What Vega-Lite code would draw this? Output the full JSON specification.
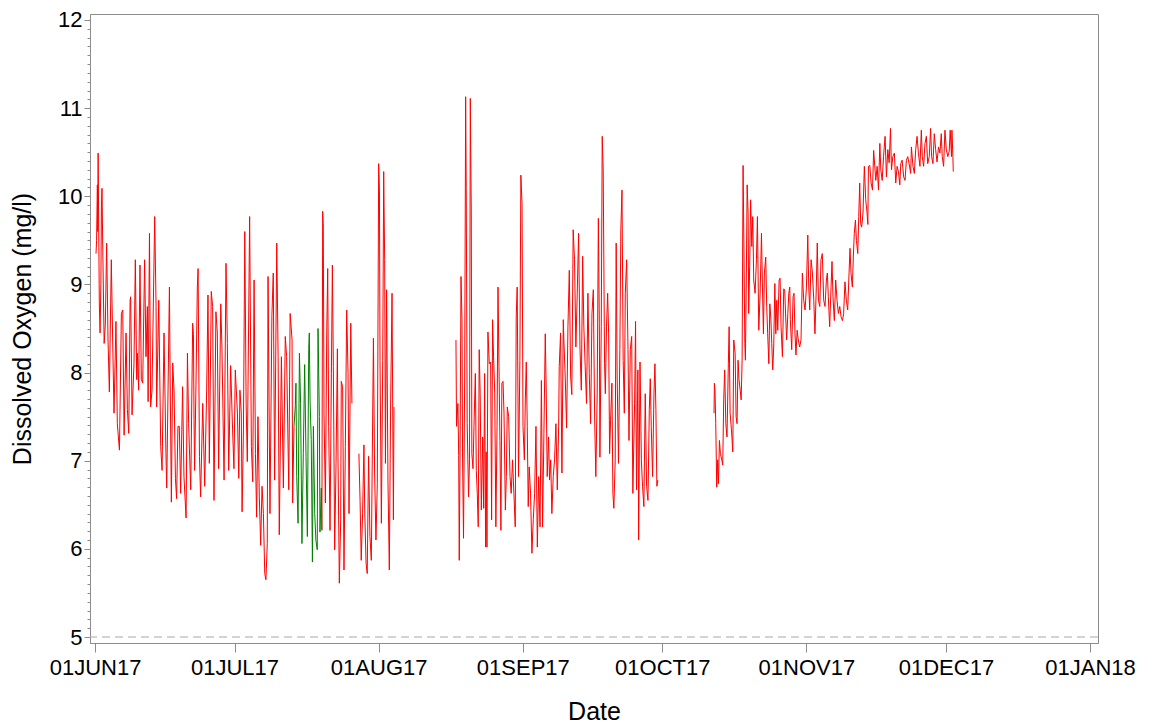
{
  "$schema": "https://vega.github.io/schema/vega-lite/v6.json",
  "width": 1008,
  "height": 629,
  "autosize": "none",
  "padding": {"left": 90, "top": 14, "right": 52, "bottom": 82},
  "background": "white",
  "config": {
    "font": "Liberation Sans",
    "view": {"stroke": "#8c8c8c", "strokeWidth": 1},
    "axis": {"domainColor": "#8c8c8c", "tickColor": "#8c8c8c", "labelColor": "#000000", "titleColor": "#000000", "grid": false, "titleFontWeight": "normal"}
  },
  "datasets": {
    "oxygen": [
      {"t":"2017-06-01T05:00","v":9.35,"g":"a"},{"t":"2017-06-01T08:00","v":9.5,"g":"a"},{"t":"2017-06-01T12:00","v":10.13,"g":"a"},{"t":"2017-06-01T14:00","v":9.6,"g":"a"},{"t":"2017-06-01T16:00","v":10.49,"g":"a"},{"t":"2017-06-01T22:00","v":8.79,"g":"a"},
      {"t":"2017-06-02T02:00","v":8.45,"g":"a"},{"t":"2017-06-02T06:00","v":9.0,"g":"a"},{"t":"2017-06-02T09:00","v":9.88,"g":"a"},{"t":"2017-06-02T12:00","v":10.09,"g":"a"},{"t":"2017-06-02T16:00","v":9.39,"g":"a"},{"t":"2017-06-02T23:00","v":8.33,"g":"a"},
      {"t":"2017-06-03T05:00","v":8.54,"g":"a"},{"t":"2017-06-03T12:00","v":9.47,"g":"a"},{"t":"2017-06-03T19:00","v":8.37,"g":"a"},
      {"t":"2017-06-04T02:00","v":7.78,"g":"a"},{"t":"2017-06-04T12:00","v":9.28,"g":"a"},{"t":"2017-06-04T19:00","v":8.37,"g":"a"},
      {"t":"2017-06-05T02:00","v":7.54,"g":"a"},{"t":"2017-06-05T12:00","v":8.58,"g":"a"},{"t":"2017-06-05T19:00","v":7.42,"g":"a"},
      {"t":"2017-06-06T06:00","v":7.12,"g":"a"},{"t":"2017-06-06T16:00","v":8.67,"g":"a"},{"t":"2017-06-06T23:00","v":8.71,"g":"a"},
      {"t":"2017-06-07T06:00","v":7.29,"g":"a"},{"t":"2017-06-07T16:00","v":8.45,"g":"a"},{"t":"2017-06-07T23:00","v":7.58,"g":"a"},
      {"t":"2017-06-08T06:00","v":7.31,"g":"a"},{"t":"2017-06-08T13:00","v":8.82,"g":"a"},{"t":"2017-06-08T16:00","v":8.86,"g":"a"},{"t":"2017-06-08T23:00","v":7.52,"g":"a"},
      {"t":"2017-06-09T09:00","v":8.10,"g":"a"},{"t":"2017-06-09T16:00","v":9.28,"g":"a"},{"t":"2017-06-09T23:00","v":7.92,"g":"a"},
      {"t":"2017-06-10T03:00","v":8.22,"g":"a"},{"t":"2017-06-10T09:00","v":7.80,"g":"a"},{"t":"2017-06-10T16:00","v":9.22,"g":"a"},{"t":"2017-06-10T23:00","v":7.92,"g":"a"},
      {"t":"2017-06-11T06:00","v":7.88,"g":"a"},{"t":"2017-06-11T16:00","v":9.28,"g":"a"},{"t":"2017-06-11T23:00","v":8.18,"g":"a"},
      {"t":"2017-06-12T06:00","v":8.75,"g":"a"},{"t":"2017-06-12T10:00","v":7.67,"g":"a"},{"t":"2017-06-12T17:00","v":9.58,"g":"a"},{"t":"2017-06-12T23:00","v":7.61,"g":"a"},
      {"t":"2017-06-13T06:00","v":7.80,"g":"a"},{"t":"2017-06-13T20:00","v":9.77,"g":"a"},
      {"t":"2017-06-14T03:00","v":8.75,"g":"a"},{"t":"2017-06-14T06:00","v":7.61,"g":"a"},{"t":"2017-06-14T17:00","v":8.82,"g":"a"},
      {"t":"2017-06-15T03:00","v":7.16,"g":"a"},{"t":"2017-06-15T10:00","v":6.89,"g":"a"},{"t":"2017-06-15T20:00","v":8.45,"g":"a"},
      {"t":"2017-06-16T06:00","v":7.08,"g":"a"},{"t":"2017-06-16T10:00","v":6.69,"g":"a"},
      {"t":"2017-06-17T00:00","v":8.97,"g":"a"},{"t":"2017-06-17T03:00","v":8.10,"g":"a"},{"t":"2017-06-17T10:00","v":6.53,"g":"a"},{"t":"2017-06-17T17:00","v":8.11,"g":"a"},
      {"t":"2017-06-18T00:00","v":7.78,"g":"a"},{"t":"2017-06-18T07:00","v":6.80,"g":"a"},{"t":"2017-06-18T13:00","v":6.57,"g":"a"},{"t":"2017-06-18T20:00","v":7.39,"g":"a"},
      {"t":"2017-06-19T03:00","v":7.39,"g":"a"},{"t":"2017-06-19T10:00","v":6.63,"g":"a"},{"t":"2017-06-19T20:00","v":7.84,"g":"a"},
      {"t":"2017-06-20T03:00","v":6.82,"g":"a"},{"t":"2017-06-20T14:00","v":6.35,"g":"a"},{"t":"2017-06-20T21:00","v":8.22,"g":"a"},
      {"t":"2017-06-21T03:00","v":7.42,"g":"a"},{"t":"2017-06-21T14:00","v":6.67,"g":"a"},
      {"t":"2017-06-22T00:00","v":8.56,"g":"a"},{"t":"2017-06-22T04:00","v":8.43,"g":"a"},{"t":"2017-06-22T07:00","v":7.46,"g":"a"},{"t":"2017-06-22T10:00","v":6.89,"g":"a"},{"t":"2017-06-22T17:00","v":7.86,"g":"a"},
      {"t":"2017-06-23T00:00","v":8.97,"g":"a"},{"t":"2017-06-23T04:00","v":9.18,"g":"a"},{"t":"2017-06-23T11:00","v":7.05,"g":"a"},{"t":"2017-06-23T17:00","v":6.59,"g":"a"},
      {"t":"2017-06-24T04:00","v":7.65,"g":"a"},{"t":"2017-06-24T14:00","v":6.71,"g":"a"},
      {"t":"2017-06-25T00:00","v":7.78,"g":"a"},{"t":"2017-06-25T07:00","v":8.88,"g":"a"},{"t":"2017-06-25T14:00","v":6.97,"g":"a"},{"t":"2017-06-25T21:00","v":8.31,"g":"a"},
      {"t":"2017-06-26T00:00","v":8.92,"g":"a"},{"t":"2017-06-26T07:00","v":8.75,"g":"a"},{"t":"2017-06-26T14:00","v":6.55,"g":"a"},
      {"t":"2017-06-27T00:00","v":8.69,"g":"a"},{"t":"2017-06-27T07:00","v":8.46,"g":"a"},{"t":"2017-06-27T14:00","v":6.91,"g":"a"},
      {"t":"2017-06-28T01:00","v":8.78,"g":"a"},{"t":"2017-06-28T07:00","v":8.29,"g":"a"},{"t":"2017-06-28T18:00","v":6.78,"g":"a"},
      {"t":"2017-06-29T04:00","v":9.24,"g":"a"},{"t":"2017-06-29T11:00","v":8.33,"g":"a"},{"t":"2017-06-29T18:00","v":6.89,"g":"a"},
      {"t":"2017-06-30T04:00","v":8.08,"g":"a"},{"t":"2017-06-30T14:00","v":7.35,"g":"a"},{"t":"2017-06-30T21:00","v":6.91,"g":"a"},
      {"t":"2017-07-01T04:00","v":8.03,"g":"a"},{"t":"2017-07-01T15:00","v":7.54,"g":"a"},{"t":"2017-07-01T22:00","v":6.80,"g":"a"},
      {"t":"2017-07-02T04:00","v":7.80,"g":"a"},{"t":"2017-07-02T11:00","v":7.54,"g":"a"},{"t":"2017-07-02T15:00","v":6.42,"g":"a"},{"t":"2017-07-02T22:00","v":7.35,"g":"a"},
      {"t":"2017-07-03T05:00","v":9.60,"g":"a"},{"t":"2017-07-03T12:00","v":7.63,"g":"a"},{"t":"2017-07-03T18:00","v":6.99,"g":"a"},
      {"t":"2017-07-04T06:00","v":9.77,"g":"a"},{"t":"2017-07-04T15:00","v":7.16,"g":"a"},{"t":"2017-07-04T22:00","v":6.76,"g":"a"},
      {"t":"2017-07-05T05:00","v":9.05,"g":"a"},{"t":"2017-07-05T12:00","v":7.08,"g":"a"},{"t":"2017-07-05T18:00","v":6.36,"g":"a"},
      {"t":"2017-07-06T01:00","v":7.50,"g":"a"},{"t":"2017-07-06T08:00","v":6.59,"g":"a"},{"t":"2017-07-06T15:00","v":6.04,"g":"a"},{"t":"2017-07-06T22:00","v":6.71,"g":"a"},
      {"t":"2017-07-07T05:00","v":6.40,"g":"a"},{"t":"2017-07-07T12:00","v":5.72,"g":"a"},{"t":"2017-07-07T18:00","v":5.65,"g":"a"},
      {"t":"2017-07-08T01:00","v":6.06,"g":"a"},{"t":"2017-07-08T05:00","v":9.09,"g":"a"},{"t":"2017-07-08T15:00","v":6.40,"g":"a"},
      {"t":"2017-07-09T01:00","v":8.65,"g":"a"},{"t":"2017-07-09T08:00","v":9.13,"g":"a"},{"t":"2017-07-09T15:00","v":6.78,"g":"a"},
      {"t":"2017-07-10T02:00","v":9.47,"g":"a"},{"t":"2017-07-10T09:00","v":8.18,"g":"a"},{"t":"2017-07-10T15:00","v":6.16,"g":"a"},
      {"t":"2017-07-11T02:00","v":8.18,"g":"a"},{"t":"2017-07-11T12:00","v":6.69,"g":"a"},{"t":"2017-07-11T22:00","v":8.41,"g":"a"},
      {"t":"2017-07-12T05:00","v":8.18,"g":"a"},{"t":"2017-07-12T16:00","v":6.67,"g":"a"},{"t":"2017-07-12T23:00","v":8.67,"g":"a"},
      {"t":"2017-07-13T09:00","v":8.37,"g":"a"},{"t":"2017-07-13T12:00","v":6.52,"g":"a"},{"t":"2017-07-13T19:00","v":7.39,"g":"a"},

      {"t":"2017-07-13T19:00","v":7.39,"g":"b"},{"t":"2017-07-14T02:00","v":7.63,"g":"b"},{"t":"2017-07-14T05:00","v":7.88,"g":"b"},{"t":"2017-07-14T09:00","v":6.82,"g":"b"},{"t":"2017-07-14T16:00","v":6.29,"g":"b"},{"t":"2017-07-14T23:00","v":8.22,"g":"b"},
      {"t":"2017-07-15T05:00","v":7.65,"g":"b"},{"t":"2017-07-15T12:00","v":6.06,"g":"b"},{"t":"2017-07-15T19:00","v":7.08,"g":"b"},
      {"t":"2017-07-16T02:00","v":8.09,"g":"b"},{"t":"2017-07-16T09:00","v":7.05,"g":"b"},{"t":"2017-07-16T16:00","v":6.14,"g":"b"},{"t":"2017-07-16T23:00","v":8.26,"g":"b"},
      {"t":"2017-07-17T02:00","v":8.45,"g":"b"},{"t":"2017-07-17T06:00","v":7.67,"g":"b"},{"t":"2017-07-17T12:00","v":7.24,"g":"b"},{"t":"2017-07-17T18:00","v":5.85,"g":"b"},{"t":"2017-07-17T23:00","v":7.39,"g":"b"},
      {"t":"2017-07-18T06:00","v":6.40,"g":"b"},{"t":"2017-07-18T12:00","v":6.10,"g":"b"},{"t":"2017-07-18T19:00","v":5.99,"g":"b"},{"t":"2017-07-18T23:00","v":8.50,"g":"b"},
      {"t":"2017-07-19T06:00","v":7.50,"g":"b"},{"t":"2017-07-19T09:00","v":6.19,"g":"b"},{"t":"2017-07-19T16:00","v":6.69,"g":"b"},{"t":"2017-07-19T19:00","v":6.21,"g":"b"},

      {"t":"2017-07-19T19:00","v":6.21,"g":"c"},{"t":"2017-07-19T23:00","v":9.83,"g":"c"},
      {"t":"2017-07-20T02:00","v":9.69,"g":"c"},{"t":"2017-07-20T06:00","v":7.54,"g":"c"},{"t":"2017-07-20T13:00","v":6.52,"g":"c"},{"t":"2017-07-20T20:00","v":8.45,"g":"c"},
      {"t":"2017-07-21T01:00","v":9.18,"g":"c"},{"t":"2017-07-21T06:00","v":7.39,"g":"c"},{"t":"2017-07-21T13:00","v":6.21,"g":"c"},{"t":"2017-07-21T20:00","v":7.99,"g":"c"},
      {"t":"2017-07-22T01:00","v":9.22,"g":"c"},{"t":"2017-07-22T06:00","v":8.07,"g":"c"},{"t":"2017-07-22T13:00","v":5.99,"g":"c"},{"t":"2017-07-22T20:00","v":6.97,"g":"c"},
      {"t":"2017-07-23T03:00","v":8.27,"g":"c"},{"t":"2017-07-23T06:00","v":7.05,"g":"c"},{"t":"2017-07-23T13:00","v":5.61,"g":"c"},{"t":"2017-07-23T20:00","v":6.33,"g":"c"},{"t":"2017-07-23T23:00","v":7.90,"g":"c"},
      {"t":"2017-07-24T06:00","v":7.84,"g":"c"},{"t":"2017-07-24T13:00","v":5.76,"g":"c"},{"t":"2017-07-24T20:00","v":7.16,"g":"c"},
      {"t":"2017-07-25T03:00","v":8.71,"g":"c"},{"t":"2017-07-25T10:00","v":7.99,"g":"c"},{"t":"2017-07-25T15:00","v":6.40,"g":"c"},
      {"t":"2017-07-26T00:00","v":8.56,"g":"c"},{"t":"2017-07-26T06:00","v":7.65,"g":"c"},

      {"t":"2017-07-27T18:00","v":7.08,"g":"d"},{"t":"2017-07-28T00:00","v":6.55,"g":"d"},{"t":"2017-07-28T06:00","v":5.87,"g":"d"},{"t":"2017-07-28T13:00","v":6.40,"g":"d"},{"t":"2017-07-28T20:00","v":7.18,"g":"d"},
      {"t":"2017-07-29T00:00","v":6.44,"g":"d"},{"t":"2017-07-29T07:00","v":5.84,"g":"d"},{"t":"2017-07-29T13:00","v":5.72,"g":"d"},{"t":"2017-07-29T20:00","v":7.05,"g":"d"},
      {"t":"2017-07-30T03:00","v":6.14,"g":"d"},{"t":"2017-07-30T10:00","v":5.87,"g":"d"},{"t":"2017-07-30T21:00","v":8.39,"g":"d"},
      {"t":"2017-07-31T03:00","v":6.86,"g":"d"},{"t":"2017-07-31T10:00","v":6.10,"g":"d"},{"t":"2017-07-31T17:00","v":6.74,"g":"d"},
      {"t":"2017-08-01T00:00","v":10.37,"g":"d"},{"t":"2017-08-01T04:00","v":10.07,"g":"d"},{"t":"2017-08-01T07:00","v":8.14,"g":"d"},{"t":"2017-08-01T14:00","v":6.29,"g":"d"},{"t":"2017-08-01T21:00","v":8.14,"g":"d"},
      {"t":"2017-08-02T02:00","v":10.28,"g":"d"},{"t":"2017-08-02T07:00","v":9.28,"g":"d"},{"t":"2017-08-02T11:00","v":6.97,"g":"d"},{"t":"2017-08-02T17:00","v":8.94,"g":"d"},
      {"t":"2017-08-03T00:00","v":6.78,"g":"d"},{"t":"2017-08-03T07:00","v":5.76,"g":"d"},{"t":"2017-08-03T14:00","v":7.69,"g":"d"},{"t":"2017-08-03T21:00","v":8.90,"g":"d"},
      {"t":"2017-08-04T04:00","v":6.33,"g":"d"},{"t":"2017-08-04T07:00","v":7.61,"g":"d"},

      {"t":"2017-08-17T15:00","v":8.37,"g":"e"},{"t":"2017-08-17T18:00","v":7.39,"g":"e"},
      {"t":"2017-08-18T01:00","v":7.65,"g":"e"},{"t":"2017-08-18T05:00","v":7.06,"g":"e"},{"t":"2017-08-18T08:00","v":5.87,"g":"e"},{"t":"2017-08-18T12:00","v":7.04,"g":"e"},{"t":"2017-08-18T17:00","v":9.09,"g":"e"},{"t":"2017-08-18T22:00","v":8.61,"g":"e"},
      {"t":"2017-08-19T01:00","v":7.03,"g":"e"},{"t":"2017-08-19T06:00","v":6.12,"g":"e"},{"t":"2017-08-19T12:00","v":7.95,"g":"e"},{"t":"2017-08-19T17:00","v":11.13,"g":"e"},{"t":"2017-08-19T20:00","v":10.09,"g":"e"},
      {"t":"2017-08-20T01:00","v":7.42,"g":"e"},{"t":"2017-08-20T08:00","v":6.59,"g":"e"},{"t":"2017-08-20T13:00","v":7.01,"g":"e"},{"t":"2017-08-20T17:00","v":11.11,"g":"e"},{"t":"2017-08-20T22:00","v":9.81,"g":"e"},
      {"t":"2017-08-21T01:00","v":7.08,"g":"e"},{"t":"2017-08-21T07:00","v":6.91,"g":"e"},{"t":"2017-08-21T12:00","v":7.39,"g":"e"},{"t":"2017-08-21T19:00","v":7.99,"g":"e"},
      {"t":"2017-08-22T00:00","v":6.89,"g":"e"},{"t":"2017-08-22T05:00","v":6.63,"g":"e"},{"t":"2017-08-22T10:00","v":6.25,"g":"e"},{"t":"2017-08-22T15:00","v":8.26,"g":"e"},{"t":"2017-08-22T20:00","v":7.76,"g":"e"},
      {"t":"2017-08-23T02:00","v":6.44,"g":"e"},{"t":"2017-08-23T09:00","v":7.27,"g":"e"},{"t":"2017-08-23T14:00","v":6.46,"g":"e"},{"t":"2017-08-23T19:00","v":7.99,"g":"e"},
      {"t":"2017-08-24T00:00","v":6.02,"g":"e"},{"t":"2017-08-24T03:00","v":7.10,"g":"e"},{"t":"2017-08-24T07:00","v":6.02,"g":"e"},{"t":"2017-08-24T12:00","v":8.46,"g":"e"},{"t":"2017-08-24T19:00","v":8.10,"g":"e"},
      {"t":"2017-08-25T02:00","v":8.12,"g":"e"},{"t":"2017-08-25T07:00","v":6.33,"g":"e"},{"t":"2017-08-25T12:00","v":8.60,"g":"e"},{"t":"2017-08-25T17:00","v":8.18,"g":"e"},{"t":"2017-08-25T23:00","v":7.77,"g":"e"},
      {"t":"2017-08-26T05:00","v":6.25,"g":"e"},{"t":"2017-08-26T11:00","v":7.39,"g":"e"},{"t":"2017-08-26T16:00","v":8.97,"g":"e"},{"t":"2017-08-26T21:00","v":8.07,"g":"e"},
      {"t":"2017-08-27T02:00","v":7.23,"g":"e"},{"t":"2017-08-27T07:00","v":6.21,"g":"e"},{"t":"2017-08-27T12:00","v":7.88,"g":"e"},{"t":"2017-08-27T18:00","v":7.90,"g":"e"},{"t":"2017-08-27T23:00","v":7.54,"g":"e"},
      {"t":"2017-08-28T06:00","v":6.44,"g":"e"},{"t":"2017-08-28T11:00","v":6.82,"g":"e"},{"t":"2017-08-28T16:00","v":7.61,"g":"e"},{"t":"2017-08-28T23:00","v":7.50,"g":"e"},
      {"t":"2017-08-29T06:00","v":6.82,"g":"e"},{"t":"2017-08-29T12:00","v":6.63,"g":"e"},{"t":"2017-08-29T19:00","v":7.01,"g":"e"},
      {"t":"2017-08-30T02:00","v":6.63,"g":"e"},{"t":"2017-08-30T09:00","v":6.25,"g":"e"},{"t":"2017-08-30T14:00","v":8.63,"g":"e"},{"t":"2017-08-30T19:00","v":8.97,"g":"e"},{"t":"2017-08-30T23:00","v":7.76,"g":"e"},
      {"t":"2017-08-31T02:00","v":6.82,"g":"e"},{"t":"2017-08-31T09:00","v":8.14,"g":"e"},{"t":"2017-08-31T14:00","v":10.24,"g":"e"},{"t":"2017-08-31T20:00","v":9.92,"g":"e"},
      {"t":"2017-09-01T01:00","v":7.39,"g":"e"},{"t":"2017-09-01T08:00","v":7.01,"g":"e"},{"t":"2017-09-01T13:00","v":7.69,"g":"e"},{"t":"2017-09-01T18:00","v":8.12,"g":"e"},{"t":"2017-09-01T23:00","v":7.39,"g":"e"},
      {"t":"2017-09-02T04:00","v":6.48,"g":"e"},{"t":"2017-09-02T09:00","v":6.93,"g":"e"},{"t":"2017-09-02T16:00","v":6.63,"g":"e"},{"t":"2017-09-02T23:00","v":5.95,"g":"e"},
      {"t":"2017-09-03T06:00","v":6.33,"g":"e"},{"t":"2017-09-03T13:00","v":6.63,"g":"e"},{"t":"2017-09-03T20:00","v":7.39,"g":"e"},
      {"t":"2017-09-04T03:00","v":6.02,"g":"e"},{"t":"2017-09-04T10:00","v":6.82,"g":"e"},{"t":"2017-09-04T17:00","v":6.25,"g":"e"},
      {"t":"2017-09-05T00:00","v":7.91,"g":"e"},{"t":"2017-09-05T06:00","v":6.25,"g":"e"},{"t":"2017-09-05T13:00","v":7.31,"g":"e"},{"t":"2017-09-05T20:00","v":8.44,"g":"e"},
      {"t":"2017-09-06T01:00","v":7.76,"g":"e"},{"t":"2017-09-06T06:00","v":6.82,"g":"e"},{"t":"2017-09-06T13:00","v":7.27,"g":"e"},{"t":"2017-09-06T18:00","v":6.78,"g":"e"},
      {"t":"2017-09-07T00:00","v":7.01,"g":"e"},{"t":"2017-09-07T06:00","v":6.40,"g":"e"},{"t":"2017-09-07T13:00","v":6.82,"g":"e"},{"t":"2017-09-07T20:00","v":7.01,"g":"e"},
      {"t":"2017-09-08T03:00","v":7.42,"g":"e"},{"t":"2017-09-08T10:00","v":6.67,"g":"e"},{"t":"2017-09-08T17:00","v":7.39,"g":"e"},{"t":"2017-09-08T20:00","v":8.07,"g":"e"},
      {"t":"2017-09-09T03:00","v":8.45,"g":"e"},{"t":"2017-09-09T10:00","v":6.86,"g":"e"},{"t":"2017-09-09T17:00","v":8.60,"g":"e"},{"t":"2017-09-09T20:00","v":8.37,"g":"e"},
      {"t":"2017-09-10T03:00","v":7.95,"g":"e"},{"t":"2017-09-10T10:00","v":7.37,"g":"e"},{"t":"2017-09-10T17:00","v":8.52,"g":"e"},
      {"t":"2017-09-11T00:00","v":9.16,"g":"e"},{"t":"2017-09-11T07:00","v":7.95,"g":"e"},{"t":"2017-09-11T13:00","v":7.75,"g":"e"},{"t":"2017-09-11T20:00","v":9.62,"g":"e"},
      {"t":"2017-09-12T03:00","v":9.28,"g":"e"},{"t":"2017-09-12T10:00","v":8.29,"g":"e"},{"t":"2017-09-12T17:00","v":8.90,"g":"e"},
      {"t":"2017-09-13T00:00","v":9.58,"g":"e"},{"t":"2017-09-13T07:00","v":8.29,"g":"e"},{"t":"2017-09-13T14:00","v":7.80,"g":"e"},{"t":"2017-09-13T21:00","v":9.32,"g":"e"},
      {"t":"2017-09-14T03:00","v":8.52,"g":"e"},{"t":"2017-09-14T10:00","v":8.07,"g":"e"},{"t":"2017-09-14T17:00","v":7.65,"g":"e"},
      {"t":"2017-09-15T00:00","v":8.90,"g":"e"},{"t":"2017-09-15T07:00","v":7.99,"g":"e"},{"t":"2017-09-15T14:00","v":7.42,"g":"e"},{"t":"2017-09-15T21:00","v":8.67,"g":"e"},
      {"t":"2017-09-16T04:00","v":8.94,"g":"e"},{"t":"2017-09-16T11:00","v":7.46,"g":"e"},{"t":"2017-09-16T17:00","v":6.82,"g":"e"},
      {"t":"2017-09-17T00:00","v":7.76,"g":"e"},{"t":"2017-09-17T06:00","v":9.75,"g":"e"},{"t":"2017-09-17T11:00","v":8.56,"g":"e"},{"t":"2017-09-17T14:00","v":7.04,"g":"e"},{"t":"2017-09-17T21:00","v":8.52,"g":"e"},
      {"t":"2017-09-18T02:00","v":10.68,"g":"e"},{"t":"2017-09-18T07:00","v":10.30,"g":"e"},{"t":"2017-09-18T14:00","v":8.10,"g":"e"},{"t":"2017-09-18T18:00","v":7.76,"g":"e"},
      {"t":"2017-09-19T00:00","v":8.52,"g":"e"},{"t":"2017-09-19T06:00","v":8.90,"g":"e"},{"t":"2017-09-19T11:00","v":8.44,"g":"e"},{"t":"2017-09-19T16:00","v":7.08,"g":"e"},{"t":"2017-09-19T21:00","v":7.46,"g":"e"},
      {"t":"2017-09-20T04:00","v":7.88,"g":"e"},{"t":"2017-09-20T09:00","v":6.63,"g":"e"},{"t":"2017-09-20T14:00","v":6.46,"g":"e"},{"t":"2017-09-20T21:00","v":7.01,"g":"e"},
      {"t":"2017-09-21T02:00","v":9.47,"g":"e"},{"t":"2017-09-21T07:00","v":7.95,"g":"e"},{"t":"2017-09-21T14:00","v":6.97,"g":"e"},{"t":"2017-09-21T21:00","v":8.26,"g":"e"},
      {"t":"2017-09-22T02:00","v":9.62,"g":"e"},{"t":"2017-09-22T08:00","v":10.07,"g":"e"},{"t":"2017-09-22T14:00","v":8.14,"g":"e"},{"t":"2017-09-22T20:00","v":7.54,"g":"e"},
      {"t":"2017-09-23T01:00","v":8.90,"g":"e"},{"t":"2017-09-23T08:00","v":9.28,"g":"e"},{"t":"2017-09-23T15:00","v":8.26,"g":"e"},{"t":"2017-09-23T20:00","v":7.23,"g":"e"},
      {"t":"2017-09-24T03:00","v":8.26,"g":"e"},{"t":"2017-09-24T10:00","v":8.41,"g":"e"},{"t":"2017-09-24T16:00","v":6.63,"g":"e"},
      {"t":"2017-09-25T01:00","v":7.65,"g":"e"},{"t":"2017-09-25T06:00","v":8.58,"g":"e"},{"t":"2017-09-25T11:00","v":6.67,"g":"e"},{"t":"2017-09-25T18:00","v":8.03,"g":"e"},{"t":"2017-09-25T22:00","v":6.10,"g":"e"},
      {"t":"2017-09-26T05:00","v":8.12,"g":"e"},{"t":"2017-09-26T12:00","v":7.01,"g":"e"},{"t":"2017-09-26T18:00","v":6.71,"g":"e"},
      {"t":"2017-09-27T01:00","v":6.48,"g":"e"},{"t":"2017-09-27T08:00","v":7.76,"g":"e"},{"t":"2017-09-27T15:00","v":6.71,"g":"e"},{"t":"2017-09-27T22:00","v":6.55,"g":"e"},
      {"t":"2017-09-28T05:00","v":7.58,"g":"e"},{"t":"2017-09-28T10:00","v":7.93,"g":"e"},{"t":"2017-09-28T15:00","v":7.39,"g":"e"},{"t":"2017-09-28T22:00","v":6.82,"g":"e"},
      {"t":"2017-09-29T05:00","v":7.76,"g":"e"},{"t":"2017-09-29T10:00","v":8.10,"g":"e"},{"t":"2017-09-29T15:00","v":7.58,"g":"e"},{"t":"2017-09-29T20:00","v":6.71,"g":"e"},
      {"t":"2017-09-30T01:00","v":6.78,"g":"e"},

      {"t":"2017-10-12T03:00","v":7.54,"g":"f"},{"t":"2017-10-12T05:00","v":7.88,"g":"f"},{"t":"2017-10-12T08:00","v":7.80,"g":"f"},{"t":"2017-10-12T12:00","v":7.42,"g":"f"},{"t":"2017-10-12T17:00","v":6.70,"g":"f"},{"t":"2017-10-12T22:00","v":7.01,"g":"f"},
      {"t":"2017-10-13T02:00","v":6.74,"g":"f"},{"t":"2017-10-13T07:00","v":7.23,"g":"f"},{"t":"2017-10-13T12:00","v":7.08,"g":"f"},{"t":"2017-10-13T19:00","v":7.01,"g":"f"},
      {"t":"2017-10-14T00:00","v":6.95,"g":"f"},{"t":"2017-10-14T05:00","v":7.69,"g":"f"},{"t":"2017-10-14T10:00","v":8.03,"g":"f"},{"t":"2017-10-14T16:00","v":7.42,"g":"f"},{"t":"2017-10-14T22:00","v":7.27,"g":"f"},
      {"t":"2017-10-15T05:00","v":8.10,"g":"f"},{"t":"2017-10-15T09:00","v":8.52,"g":"f"},{"t":"2017-10-15T14:00","v":7.54,"g":"f"},{"t":"2017-10-15T21:00","v":7.35,"g":"f"},
      {"t":"2017-10-16T04:00","v":7.10,"g":"f"},{"t":"2017-10-16T09:00","v":8.37,"g":"f"},{"t":"2017-10-16T16:00","v":8.22,"g":"f"},{"t":"2017-10-16T21:00","v":7.50,"g":"f"},
      {"t":"2017-10-17T02:00","v":7.42,"g":"f"},{"t":"2017-10-17T07:00","v":8.14,"g":"f"},{"t":"2017-10-17T12:00","v":7.92,"g":"f"},{"t":"2017-10-17T18:00","v":7.80,"g":"f"},{"t":"2017-10-17T23:00","v":7.69,"g":"f"},
      {"t":"2017-10-18T04:00","v":8.14,"g":"f"},{"t":"2017-10-18T09:00","v":10.35,"g":"f"},{"t":"2017-10-18T14:00","v":9.28,"g":"f"},{"t":"2017-10-18T18:00","v":8.33,"g":"f"},{"t":"2017-10-18T21:00","v":8.14,"g":"f"},
      {"t":"2017-10-19T02:00","v":9.13,"g":"f"},{"t":"2017-10-19T06:00","v":10.13,"g":"f"},{"t":"2017-10-19T11:00","v":9.81,"g":"f"},{"t":"2017-10-19T14:00","v":8.67,"g":"f"},{"t":"2017-10-19T19:00","v":9.20,"g":"f"},
      {"t":"2017-10-20T00:00","v":9.96,"g":"f"},{"t":"2017-10-20T06:00","v":9.43,"g":"f"},{"t":"2017-10-20T11:00","v":9.77,"g":"f"},{"t":"2017-10-20T16:00","v":9.05,"g":"f"},{"t":"2017-10-20T23:00","v":8.90,"g":"f"},
      {"t":"2017-10-21T06:00","v":9.28,"g":"f"},{"t":"2017-10-21T11:00","v":9.77,"g":"f"},{"t":"2017-10-21T18:00","v":8.48,"g":"f"},
      {"t":"2017-10-22T01:00","v":8.90,"g":"f"},{"t":"2017-10-22T08:00","v":9.58,"g":"f"},{"t":"2017-10-22T13:00","v":8.97,"g":"f"},{"t":"2017-10-22T18:00","v":8.44,"g":"f"},{"t":"2017-10-22T23:00","v":9.13,"g":"f"},
      {"t":"2017-10-23T06:00","v":9.31,"g":"f"},{"t":"2017-10-23T11:00","v":8.75,"g":"f"},{"t":"2017-10-23T16:00","v":8.44,"g":"f"},{"t":"2017-10-23T22:00","v":8.10,"g":"f"},
      {"t":"2017-10-24T03:00","v":8.78,"g":"f"},{"t":"2017-10-24T08:00","v":8.63,"g":"f"},{"t":"2017-10-24T13:00","v":8.33,"g":"f"},{"t":"2017-10-24T18:00","v":8.03,"g":"f"},{"t":"2017-10-24T23:00","v":8.29,"g":"f"},
      {"t":"2017-10-25T05:00","v":9.01,"g":"f"},{"t":"2017-10-25T10:00","v":8.44,"g":"f"},{"t":"2017-10-25T15:00","v":8.82,"g":"f"},{"t":"2017-10-25T20:00","v":8.48,"g":"f"},
      {"t":"2017-10-26T03:00","v":9.05,"g":"f"},{"t":"2017-10-26T08:00","v":9.07,"g":"f"},{"t":"2017-10-26T13:00","v":8.52,"g":"f"},{"t":"2017-10-26T20:00","v":8.18,"g":"f"},
      {"t":"2017-10-27T03:00","v":8.95,"g":"f"},{"t":"2017-10-27T08:00","v":8.94,"g":"f"},{"t":"2017-10-27T13:00","v":8.63,"g":"f"},{"t":"2017-10-27T18:00","v":8.37,"g":"f"},
      {"t":"2017-10-28T00:00","v":8.67,"g":"f"},{"t":"2017-10-28T05:00","v":8.90,"g":"f"},{"t":"2017-10-28T10:00","v":8.97,"g":"f"},{"t":"2017-10-28T13:00","v":8.60,"g":"f"},{"t":"2017-10-28T20:00","v":8.26,"g":"f"},
      {"t":"2017-10-29T03:00","v":8.86,"g":"f"},{"t":"2017-10-29T08:00","v":8.90,"g":"f"},{"t":"2017-10-29T13:00","v":8.44,"g":"f"},{"t":"2017-10-29T18:00","v":8.20,"g":"f"},
      {"t":"2017-10-30T00:00","v":8.48,"g":"f"},{"t":"2017-10-30T06:00","v":8.37,"g":"f"},{"t":"2017-10-30T13:00","v":8.29,"g":"f"},{"t":"2017-10-30T20:00","v":8.37,"g":"f"},
      {"t":"2017-10-31T03:00","v":9.13,"g":"f"},{"t":"2017-10-31T10:00","v":8.82,"g":"f"},{"t":"2017-10-31T17:00","v":8.71,"g":"f"},
      {"t":"2017-11-01T00:00","v":8.97,"g":"f"},{"t":"2017-11-01T07:00","v":9.56,"g":"f"},{"t":"2017-11-01T12:00","v":8.97,"g":"f"},{"t":"2017-11-01T17:00","v":8.71,"g":"f"},
      {"t":"2017-11-02T00:00","v":9.28,"g":"f"},{"t":"2017-11-02T07:00","v":9.13,"g":"f"},{"t":"2017-11-02T14:00","v":8.82,"g":"f"},{"t":"2017-11-02T20:00","v":8.44,"g":"f"},
      {"t":"2017-11-03T03:00","v":8.97,"g":"f"},{"t":"2017-11-03T08:00","v":9.47,"g":"f"},{"t":"2017-11-03T14:00","v":8.82,"g":"f"},{"t":"2017-11-03T21:00","v":8.75,"g":"f"},
      {"t":"2017-11-04T03:00","v":9.28,"g":"f"},{"t":"2017-11-04T10:00","v":9.35,"g":"f"},{"t":"2017-11-04T17:00","v":8.82,"g":"f"},
      {"t":"2017-11-05T00:00","v":8.75,"g":"f"},{"t":"2017-11-05T07:00","v":9.05,"g":"f"},{"t":"2017-11-05T12:00","v":9.13,"g":"f"},{"t":"2017-11-05T17:00","v":8.86,"g":"f"},
      {"t":"2017-11-06T00:00","v":8.52,"g":"f"},{"t":"2017-11-06T07:00","v":8.97,"g":"f"},{"t":"2017-11-06T12:00","v":9.26,"g":"f"},{"t":"2017-11-06T17:00","v":8.86,"g":"f"},
      {"t":"2017-11-07T00:00","v":8.59,"g":"f"},{"t":"2017-11-07T07:00","v":9.05,"g":"f"},{"t":"2017-11-07T14:00","v":8.82,"g":"f"},{"t":"2017-11-07T21:00","v":8.67,"g":"f"},
      {"t":"2017-11-08T04:00","v":8.75,"g":"f"},{"t":"2017-11-08T11:00","v":8.63,"g":"f"},{"t":"2017-11-08T18:00","v":8.59,"g":"f"},
      {"t":"2017-11-09T00:00","v":8.67,"g":"f"},{"t":"2017-11-09T07:00","v":9.03,"g":"f"},{"t":"2017-11-09T14:00","v":8.82,"g":"f"},{"t":"2017-11-09T21:00","v":8.71,"g":"f"},
      {"t":"2017-11-10T04:00","v":9.13,"g":"f"},{"t":"2017-11-10T09:00","v":9.41,"g":"f"},{"t":"2017-11-10T14:00","v":9.13,"g":"f"},{"t":"2017-11-10T21:00","v":8.97,"g":"f"},
      {"t":"2017-11-11T02:00","v":9.31,"g":"f"},{"t":"2017-11-11T07:00","v":9.58,"g":"f"},{"t":"2017-11-11T13:00","v":9.73,"g":"f"},{"t":"2017-11-11T18:00","v":9.50,"g":"f"},
      {"t":"2017-11-12T01:00","v":9.35,"g":"f"},{"t":"2017-11-12T06:00","v":9.77,"g":"f"},{"t":"2017-11-12T11:00","v":10.15,"g":"f"},{"t":"2017-11-12T16:00","v":9.69,"g":"f"},{"t":"2017-11-12T21:00","v":9.65,"g":"f"},
      {"t":"2017-11-13T04:00","v":9.81,"g":"f"},{"t":"2017-11-13T11:00","v":10.34,"g":"f"},{"t":"2017-11-13T18:00","v":9.96,"g":"f"},
      {"t":"2017-11-14T01:00","v":9.81,"g":"f"},{"t":"2017-11-14T05:00","v":9.68,"g":"f"},{"t":"2017-11-14T08:00","v":10.34,"g":"f"},{"t":"2017-11-14T15:00","v":10.35,"g":"f"},{"t":"2017-11-14T22:00","v":10.15,"g":"f"},
      {"t":"2017-11-15T05:00","v":10.07,"g":"f"},{"t":"2017-11-15T11:00","v":10.52,"g":"f"},{"t":"2017-11-15T22:00","v":10.18,"g":"f"},
      {"t":"2017-11-16T05:00","v":10.34,"g":"f"},{"t":"2017-11-16T12:00","v":10.07,"g":"f"},{"t":"2017-11-16T19:00","v":10.60,"g":"f"},
      {"t":"2017-11-17T00:00","v":10.30,"g":"f"},{"t":"2017-11-17T07:00","v":10.18,"g":"f"},{"t":"2017-11-17T14:00","v":10.45,"g":"f"},{"t":"2017-11-17T22:00","v":10.68,"g":"f"},
      {"t":"2017-11-18T05:00","v":10.22,"g":"f"},{"t":"2017-11-18T12:00","v":10.53,"g":"f"},{"t":"2017-11-18T19:00","v":10.38,"g":"f"},
      {"t":"2017-11-19T02:00","v":10.77,"g":"f"},{"t":"2017-11-19T07:00","v":10.30,"g":"f"},{"t":"2017-11-19T14:00","v":10.45,"g":"f"},{"t":"2017-11-19T22:00","v":10.49,"g":"f"},
      {"t":"2017-11-20T05:00","v":10.15,"g":"f"},{"t":"2017-11-20T12:00","v":10.34,"g":"f"},{"t":"2017-11-20T19:00","v":10.28,"g":"f"},
      {"t":"2017-11-21T02:00","v":10.13,"g":"f"},{"t":"2017-11-21T07:00","v":10.37,"g":"f"},{"t":"2017-11-21T14:00","v":10.41,"g":"f"},{"t":"2017-11-21T22:00","v":10.22,"g":"f"},
      {"t":"2017-11-22T05:00","v":10.18,"g":"f"},{"t":"2017-11-22T12:00","v":10.41,"g":"f"},{"t":"2017-11-22T19:00","v":10.45,"g":"f"},
      {"t":"2017-11-23T02:00","v":10.37,"g":"f"},{"t":"2017-11-23T10:00","v":10.26,"g":"f"},{"t":"2017-11-23T14:00","v":10.56,"g":"f"},{"t":"2017-11-23T22:00","v":10.34,"g":"f"},
      {"t":"2017-11-24T05:00","v":10.26,"g":"f"},{"t":"2017-11-24T12:00","v":10.53,"g":"f"},{"t":"2017-11-24T19:00","v":10.68,"g":"f"},
      {"t":"2017-11-25T02:00","v":10.49,"g":"f"},{"t":"2017-11-25T10:00","v":10.34,"g":"f"},{"t":"2017-11-25T17:00","v":10.75,"g":"f"},{"t":"2017-11-25T22:00","v":10.45,"g":"f"},
      {"t":"2017-11-26T05:00","v":10.34,"g":"f"},{"t":"2017-11-26T12:00","v":10.60,"g":"f"},{"t":"2017-11-26T19:00","v":10.68,"g":"f"},
      {"t":"2017-11-27T02:00","v":10.37,"g":"f"},{"t":"2017-11-27T10:00","v":10.45,"g":"f"},{"t":"2017-11-27T17:00","v":10.77,"g":"f"},{"t":"2017-11-27T22:00","v":10.45,"g":"f"},
      {"t":"2017-11-28T05:00","v":10.37,"g":"f"},{"t":"2017-11-28T12:00","v":10.71,"g":"f"},{"t":"2017-11-28T19:00","v":10.53,"g":"f"},
      {"t":"2017-11-29T02:00","v":10.39,"g":"f"},{"t":"2017-11-29T10:00","v":10.56,"g":"f"},{"t":"2017-11-29T17:00","v":10.49,"g":"f"},
      {"t":"2017-11-30T00:00","v":10.71,"g":"f"},{"t":"2017-11-30T05:00","v":10.45,"g":"f"},{"t":"2017-11-30T12:00","v":10.34,"g":"f"},{"t":"2017-11-30T19:00","v":10.75,"g":"f"},
      {"t":"2017-12-01T02:00","v":10.53,"g":"f"},{"t":"2017-12-01T10:00","v":10.45,"g":"f"},{"t":"2017-12-01T17:00","v":10.51,"g":"f"},{"t":"2017-12-01T22:00","v":10.75,"g":"f"},
      {"t":"2017-12-02T05:00","v":10.45,"g":"f"},{"t":"2017-12-02T07:00","v":10.75,"g":"f"},{"t":"2017-12-02T12:00","v":10.45,"g":"f"},{"t":"2017-12-02T14:00","v":10.28,"g":"f"}
    ]
  },
  "layer": [
    {
      "data": {"values": [{"limit": 5}]},
      "mark": {"type": "rule", "color": "#a8a8a8", "strokeWidth": 1, "strokeDash": [8, 5]},
      "encoding": {
        "y": {
          "field": "limit",
          "type": "quantitative",
          "scale": {"domain": [4.932, 12.068], "nice": false, "zero": false},
          "axis": {
            "orient": "left",
            "values": [5.1,5.2,5.3,5.4,5.5,5.6,5.7,5.8,5.9,6.1,6.2,6.3,6.4,6.5,6.6,6.7,6.8,6.9,7.1,7.2,7.3,7.4,7.5,7.6,7.7,7.8,7.9,8.1,8.2,8.3,8.4,8.5,8.6,8.7,8.8,8.9,9.1,9.2,9.3,9.4,9.5,9.6,9.7,9.8,9.9,10.1,10.2,10.3,10.4,10.5,10.6,10.7,10.8,10.9,11.1,11.2,11.3,11.4,11.5,11.6,11.7,11.8,11.9],
            "labels": false,
            "domain": false,
            "tickSize": 3,
            "title": null
          }
        }
      }
    },
    {
      "data": {"name": "oxygen"},
      "mark": {"type": "line", "strokeWidth": 1},
      "encoding": {
        "x": {
          "field": "t",
          "type": "temporal",
          "scale": {"domain": [{"year": 2017, "month": 5, "date": 30, "hours": 22}, {"year": 2018, "month": 1, "date": 2, "hours": 17}]},
          "axis": {
            "values": [
              {"year": 2017, "month": 6, "date": 1}, {"year": 2017, "month": 7, "date": 1}, {"year": 2017, "month": 8, "date": 1},
              {"year": 2017, "month": 9, "date": 1}, {"year": 2017, "month": 10, "date": 1}, {"year": 2017, "month": 11, "date": 1},
              {"year": 2017, "month": 12, "date": 1}, {"year": 2018, "month": 1, "date": 1}
            ],
            "labelExpr": "upper(timeFormat(datum.value, '%d%b%y'))",
            "labelFontSize": 22,
            "labelPadding": 5,
            "tickSize": 9,
            "title": "Date",
            "titleFontSize": 25,
            "titlePadding": 21
          }
        },
        "y": {
          "field": "v",
          "type": "quantitative",
          "scale": {"domain": [4.932, 12.068], "nice": false, "zero": false},
          "axis": {
            "orient": "left",
            "values": [5, 6, 7, 8, 9, 10, 11, 12],
            "labelFontSize": 22,
            "labelPadding": 2,
            "tickSize": 6,
            "title": "Dissolved Oxygen (mg/l)",
            "titleFontSize": 25,
            "titlePadding": 22
          }
        },
        "color": {
          "field": "g",
          "type": "nominal",
          "scale": {"domain": ["a", "b", "c", "d", "e", "f"], "range": ["#ff0000", "#008000", "#ff0000", "#ff0000", "#ff0000", "#ff0000"]},
          "legend": null
        }
      }
    }
  ],
  "resolve": {"axis": {"y": "independent"}}
}
